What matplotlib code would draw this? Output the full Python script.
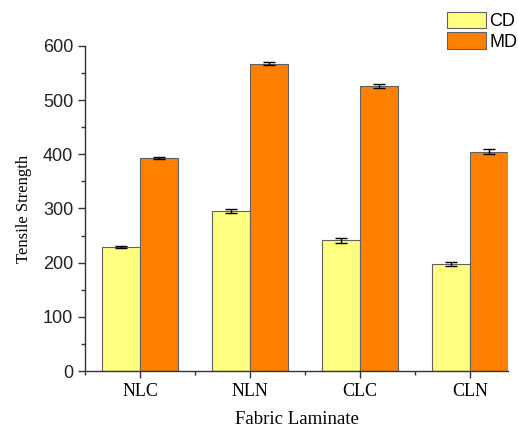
import matplotlib.pyplot as plt
import numpy as np
from matplotlib.ticker import MultipleLocator, FixedLocator

# Tensile strength by fabric laminate
laminates = ["NLC", "NLN", "CLC", "CLN"]
cd = [229, 295, 241, 198]
cd_err = [2, 4, 5, 4]
md = [393, 567, 526, 405]
md_err = [2, 3, 3, 5]

fig = plt.figure(figsize=(5.18, 4.32), dpi=100)
ax = fig.add_axes([0.164, 0.141, 0.817, 0.753])

x = np.arange(len(laminates))
w = 0.345
ekw = dict(ecolor="black", elinewidth=1.0, capsize=4, capthick=1.0)
ax.bar(x - w / 2, cd, w, yerr=cd_err, color="#FFFF80", edgecolor="#606060",
       linewidth=0.8, error_kw=ekw, label="CD")
ax.bar(x + w / 2, md, w, yerr=md_err, color="#FF8000", edgecolor="#606060",
       linewidth=0.8, error_kw=ekw, label="MD")

ax.set_xlim(-0.5, 3.345)
ax.set_ylim(0, 600)
ax.spines["top"].set_visible(False)
ax.spines["right"].set_visible(False)
for s in ("left", "bottom"):
    ax.spines[s].set_color("#333333")
    ax.spines[s].set_linewidth(1.0)

ax.set_xticks(x)
ax.set_xticklabels(laminates, family="Liberation Serif", fontsize=13)
ax.xaxis.set_minor_locator(FixedLocator([-0.5, 0.5, 1.5, 2.5]))
ax.yaxis.set_major_locator(MultipleLocator(100))
ax.yaxis.set_minor_locator(MultipleLocator(50))
ax.tick_params(which="major", direction="out", length=5, width=1, color="#333333")
ax.tick_params(which="minor", direction="out", length=3, width=1, color="#333333")
for lab in ax.get_yticklabels():
    lab.set_family("Liberation Sans")
    lab.set_fontsize(13)
    lab.set_color("#222222")

ax.set_xlabel("Fabric Laminate", family="Liberation Serif", fontsize=13.5, labelpad=8)
ax.set_ylabel("Tensile Strength", family="Liberation Serif", fontsize=12, labelpad=8)

fig.legend(loc="upper left", bbox_to_anchor=(447 / 518, 1 - 12 / 432),
           frameon=False, borderpad=0, borderaxespad=0,
           prop={"family": "Liberation Sans", "size": 13},
           handlelength=2.15, handleheight=1.0, labelspacing=0.12,
           handletextpad=0.2)

fig.savefig("out.png", dpi=100)
